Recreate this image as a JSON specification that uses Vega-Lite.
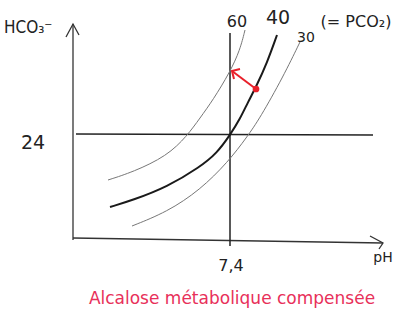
{
  "$schema": "https://vega.github.io/schema/vega-lite/v6.json",
  "width": 400,
  "height": 323,
  "autosize": {"type": "fit", "contains": "padding"},
  "padding": 0,
  "background": "white",
  "config": {"view": {"stroke": null}},
  "datasets": {
    "axes": [
      {"seg": "yaxis", "o": 1, "x": 73, "y": 240},
      {"seg": "yaxis", "o": 2, "x": 73, "y": 24},
      {"seg": "yarrow", "o": 1, "x": 66, "y": 37},
      {"seg": "yarrow", "o": 2, "x": 73, "y": 24},
      {"seg": "yarrow", "o": 3, "x": 79, "y": 35},
      {"seg": "xaxis", "o": 1, "x": 73, "y": 238},
      {"seg": "xaxis", "o": 2, "x": 383, "y": 243},
      {"seg": "xarrow", "o": 1, "x": 370, "y": 236},
      {"seg": "xarrow", "o": 2, "x": 383, "y": 243},
      {"seg": "xarrow", "o": 3, "x": 379, "y": 249}
    ],
    "refs": [
      {"seg": "vertical", "o": 1, "x": 230, "y": 33},
      {"seg": "vertical", "o": 2, "x": 230, "y": 246},
      {"seg": "horizontal", "o": 1, "x": 76, "y": 134},
      {"seg": "horizontal", "o": 2, "x": 373, "y": 135}
    ],
    "iso40": [
      {"o": 1, "x": 110, "y": 207},
      {"o": 2, "x": 133, "y": 200},
      {"o": 3, "x": 167, "y": 187},
      {"o": 4, "x": 200, "y": 167},
      {"o": 5, "x": 217, "y": 153},
      {"o": 6, "x": 230, "y": 135},
      {"o": 7, "x": 240, "y": 119},
      {"o": 8, "x": 248, "y": 102},
      {"o": 9, "x": 256, "y": 87},
      {"o": 10, "x": 267, "y": 63},
      {"o": 11, "x": 277, "y": 35}
    ],
    "isoThin": [
      {"curve": "60", "o": 1, "x": 108, "y": 180},
      {"curve": "60", "o": 2, "x": 133, "y": 172},
      {"curve": "60", "o": 3, "x": 167, "y": 156},
      {"curve": "60", "o": 4, "x": 187, "y": 136},
      {"curve": "60", "o": 5, "x": 200, "y": 118},
      {"curve": "60", "o": 6, "x": 213, "y": 100},
      {"curve": "60", "o": 7, "x": 230, "y": 72},
      {"curve": "60", "o": 8, "x": 240, "y": 50},
      {"curve": "60", "o": 9, "x": 245, "y": 30},
      {"curve": "30", "o": 1, "x": 132, "y": 226},
      {"curve": "30", "o": 2, "x": 167, "y": 212},
      {"curve": "30", "o": 3, "x": 200, "y": 190},
      {"curve": "30", "o": 4, "x": 228, "y": 162},
      {"curve": "30", "o": 5, "x": 247, "y": 137},
      {"curve": "30", "o": 6, "x": 260, "y": 118},
      {"curve": "30", "o": 7, "x": 283, "y": 77},
      {"curve": "30", "o": 8, "x": 300, "y": 42}
    ],
    "arrow": [
      {"seg": "shaft", "o": 1, "x": 256, "y": 89},
      {"seg": "shaft", "o": 2, "x": 232, "y": 71},
      {"seg": "head", "o": 1, "x": 240, "y": 69},
      {"seg": "head", "o": 2, "x": 232, "y": 71},
      {"seg": "head", "o": 3, "x": 234, "y": 79}
    ],
    "dot": [{"x": 256, "y": 89}],
    "hco3": [{"t": "HCO₃⁻", "x": 4, "y": 28}],
    "bigLabels": [
      {"t": "24", "x": 33, "y": 143},
      {"t": "40", "x": 278, "y": 18}
    ],
    "midLabels": [
      {"t": "7,4", "x": 231, "y": 266},
      {"t": "60", "x": 237, "y": 22},
      {"t": "(= PCO₂)", "x": 356, "y": 22}
    ],
    "smallLabels": [
      {"t": "pH", "x": 383, "y": 258},
      {"t": "30", "x": 306, "y": 38}
    ],
    "title": [{"t": "Alcalose métabolique compensée", "x": 232, "y": 299}]
  },
  "layer": [
    {
      "data": {"name": "axes"},
      "mark": {"type": "line", "color": "#333", "strokeWidth": 1.3},
      "encoding": {
        "x": {"field": "x", "type": "quantitative", "scale": {"domain": [0, 400], "nice": false}, "axis": null},
        "y": {"field": "y", "type": "quantitative", "scale": {"domain": [0, 323], "nice": false, "reverse": true}, "axis": null},
        "detail": {"field": "seg"},
        "order": {"field": "o"}
      }
    },
    {
      "data": {"name": "refs"},
      "mark": {"type": "line", "color": "#222", "strokeWidth": 1.5},
      "encoding": {
        "x": {"field": "x", "type": "quantitative"},
        "y": {"field": "y", "type": "quantitative"},
        "detail": {"field": "seg"},
        "order": {"field": "o"}
      }
    },
    {
      "data": {"name": "isoThin"},
      "mark": {"type": "line", "color": "#777", "strokeWidth": 1, "interpolate": "basis"},
      "encoding": {
        "x": {"field": "x", "type": "quantitative"},
        "y": {"field": "y", "type": "quantitative"},
        "detail": {"field": "curve"},
        "order": {"field": "o"}
      }
    },
    {
      "data": {"name": "iso40"},
      "mark": {"type": "line", "color": "#1a1a1a", "strokeWidth": 2, "interpolate": "basis"},
      "encoding": {
        "x": {"field": "x", "type": "quantitative"},
        "y": {"field": "y", "type": "quantitative"},
        "order": {"field": "o"}
      }
    },
    {
      "data": {"name": "arrow"},
      "mark": {"type": "line", "color": "#e8202a", "strokeWidth": 2},
      "encoding": {
        "x": {"field": "x", "type": "quantitative"},
        "y": {"field": "y", "type": "quantitative"},
        "detail": {"field": "seg"},
        "order": {"field": "o"}
      }
    },
    {
      "data": {"name": "dot"},
      "mark": {"type": "point", "filled": true, "color": "#e8202a", "size": 45, "opacity": 1},
      "encoding": {
        "x": {"field": "x", "type": "quantitative"},
        "y": {"field": "y", "type": "quantitative"}
      }
    },
    {
      "data": {"name": "hco3"},
      "mark": {"type": "text", "color": "#222", "font": "DejaVu Sans Condensed", "fontSize": 17, "align": "left", "baseline": "middle"},
      "encoding": {
        "x": {"field": "x", "type": "quantitative"},
        "y": {"field": "y", "type": "quantitative"},
        "text": {"field": "t"}
      }
    },
    {
      "data": {"name": "bigLabels"},
      "mark": {"type": "text", "color": "#222", "font": "DejaVu Sans", "fontSize": 19, "align": "center", "baseline": "middle"},
      "encoding": {
        "x": {"field": "x", "type": "quantitative"},
        "y": {"field": "y", "type": "quantitative"},
        "text": {"field": "t"}
      }
    },
    {
      "data": {"name": "midLabels"},
      "mark": {"type": "text", "color": "#222", "font": "DejaVu Sans", "fontSize": 16, "align": "center", "baseline": "middle"},
      "encoding": {
        "x": {"field": "x", "type": "quantitative"},
        "y": {"field": "y", "type": "quantitative"},
        "text": {"field": "t"}
      }
    },
    {
      "data": {"name": "smallLabels"},
      "mark": {"type": "text", "color": "#222", "font": "DejaVu Sans", "fontSize": 14, "align": "center", "baseline": "middle"},
      "encoding": {
        "x": {"field": "x", "type": "quantitative"},
        "y": {"field": "y", "type": "quantitative"},
        "text": {"field": "t"}
      }
    },
    {
      "data": {"name": "title"},
      "mark": {"type": "text", "color": "#e8305a", "font": "DejaVu Sans", "fontSize": 17, "align": "center", "baseline": "middle"},
      "encoding": {
        "x": {"field": "x", "type": "quantitative"},
        "y": {"field": "y", "type": "quantitative"},
        "text": {"field": "t"}
      }
    }
  ]
}
